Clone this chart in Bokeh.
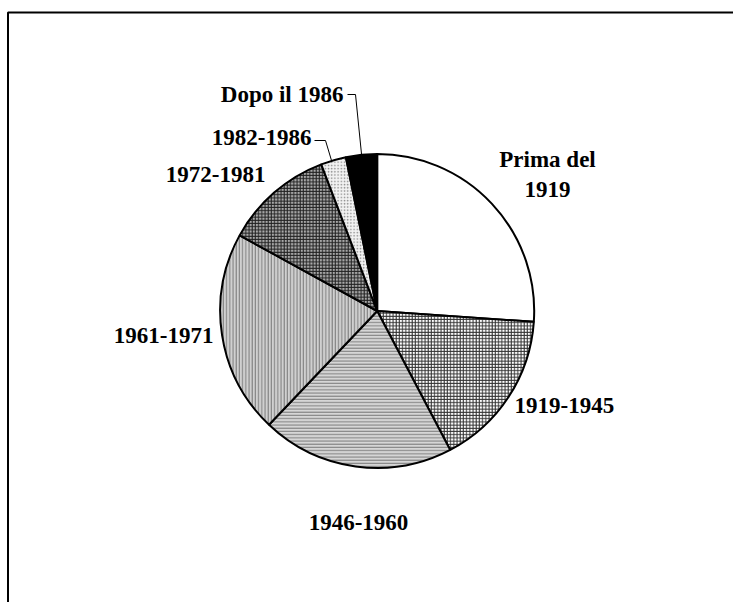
import numpy as np
from bokeh.plotting import figure
from bokeh.models import Range1d, ColumnDataSource
from bokeh.core.properties import value
from bokeh.embed import file_html
from bokeh.resources import INLINE

# ---- data ----
categories = ["Prima del\n1919", "1919-1945", "1946-1960", "1961-1971",
              "1972-1981", "1982-1986", "Dopo il 1986"]
shares = [26.1, 16.2, 19.8, 20.9, 11.2, 2.6, 3.2]

# ---- styles (one per slice) ----
fills = ["#ffffff", "#ffffff", "#d6d6d6", "#d0d0d0", "#a8a8a8", "#f2f2f2", "#000000"]
hatches = [" ", "cross", "horizontal_line", "vertical_line", "cross", "dot", " "]
hatch_colors = ["#000000", "#303030", "#7a7a7a", "#7a7a7a", "#202020", "#8a8a8a", "#000000"]

W, H = 733, 602
def px(X):  # page x -> data x
    return X
def py(Y):  # page y -> data y
    return H - Y

p = figure(width=W, height=H, output_backend="svg", toolbar_location=None,
           x_range=Range1d(0, W), y_range=Range1d(0, H), min_border=0)
p.axis.visible = False
p.grid.visible = False
p.outline_line_color = None
p.background_fill_color = "white"
p.border_fill_color = "white"

# frame (cut off on right & bottom as in reference)
p.line([7.5, 7.5, W], [0, py(12), py(12)], line_color="black", line_width=2)

# pie
cx, cy, r = px(376.7), py(310.5), 157
frac = np.array(shares) / np.sum(shares)
cum = np.concatenate([[0], np.cumsum(frac)]) * 2 * np.pi
starts = np.pi / 2 - cum[:-1]
ends = np.pi / 2 - cum[1:]
src = ColumnDataSource(dict(start=starts, end=ends, fill=fills, hatch=hatches,
                            hcol=hatch_colors))
p.wedge(x=cx, y=cy, radius=r, start_angle="start", end_angle="end",
        direction="clock", source=src, fill_color="fill",
        hatch_pattern="hatch", hatch_color="hcol", hatch_scale=3.2,
        hatch_weight=1, line_color="black", line_width=2)

# labels
font = value("Liberation Serif")
lab_x = [px(547), px(514), px(358), px(213), px(265), px(311), px(343)]
lab_y = [py(174), py(405), py(522), py(335), py(173.5), py(137), py(94)]
lab_align = ["center", "left", "center", "right", "right", "right", "right"]
for t, x, y, a in zip(categories, lab_x, lab_y, lab_align):
    p.text(x=[x], y=[y], text=[t], text_font=font, text_font_style="bold",
           text_font_size="23px", text_align=a, text_baseline="middle",
           text_line_height=1.17, text_color="black")

# leader lines
p.line([px(347), px(355), px(361)], [py(94), py(94), py(153.5)],
       line_color="black", line_width=1)
p.line([px(314), px(325), px(331)], [py(140), py(140), py(160)],
       line_color="black", line_width=1)

open("out.html", "w").write(file_html(p, INLINE))
